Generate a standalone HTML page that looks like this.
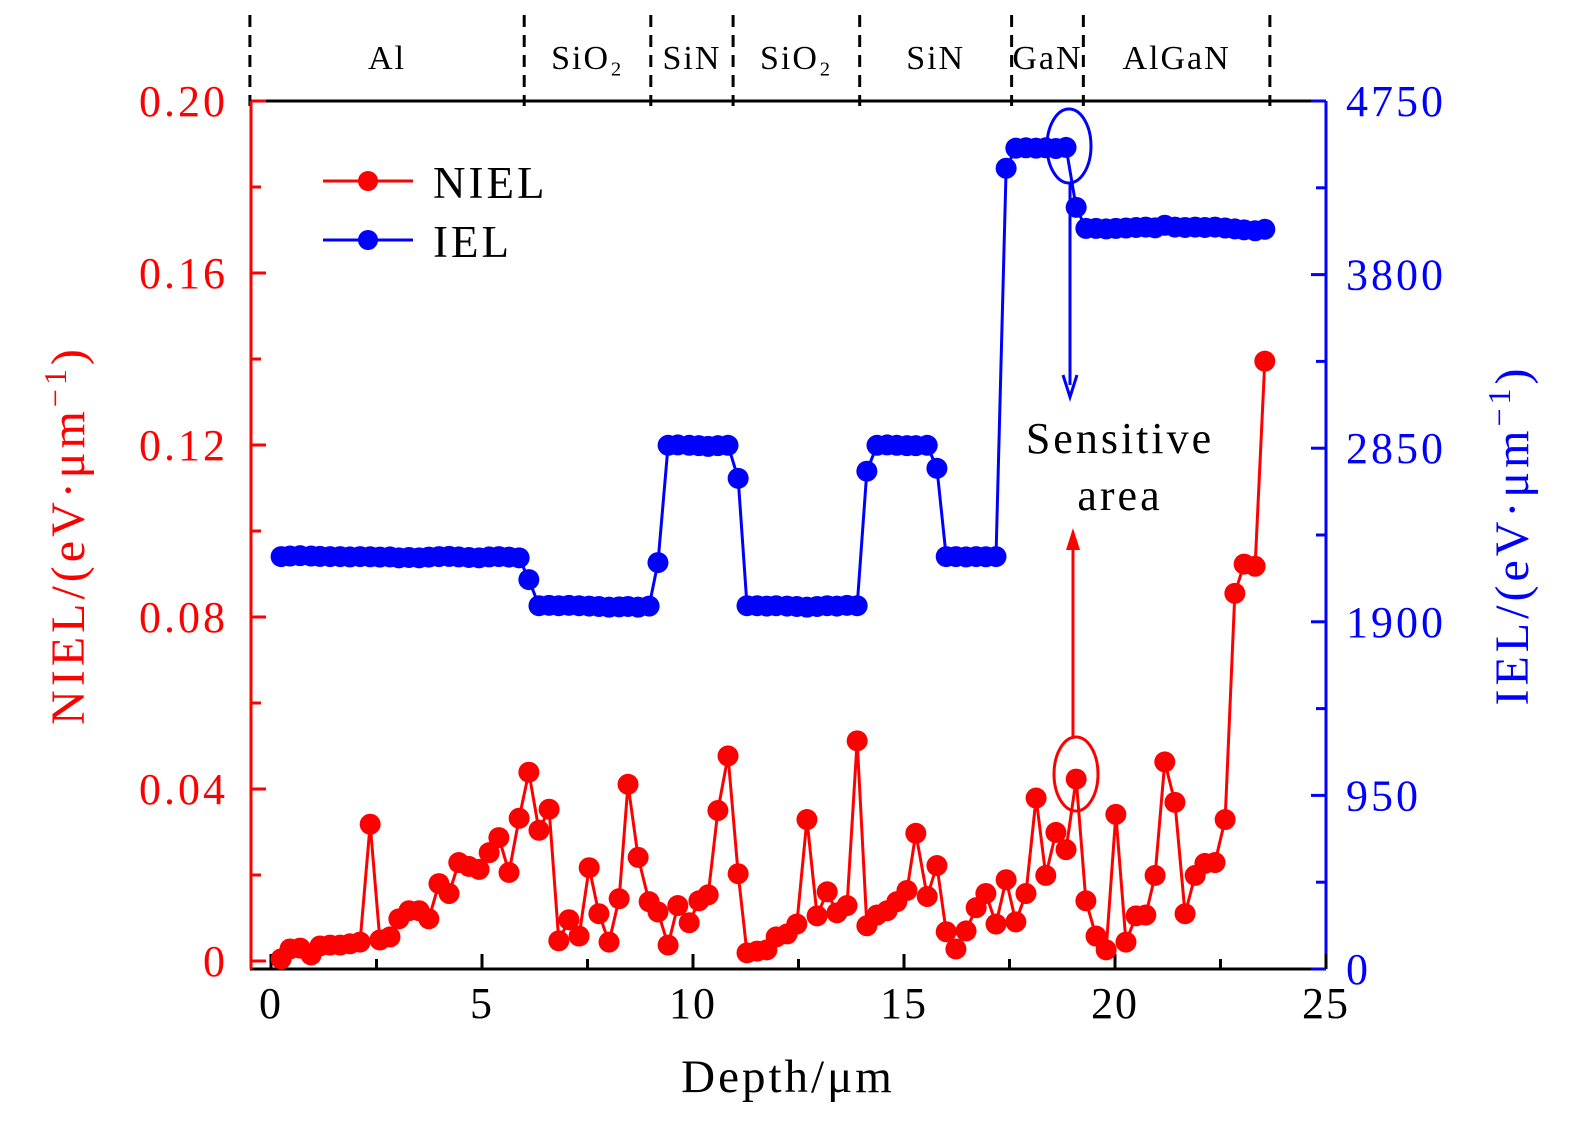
<!DOCTYPE html>
<html><head><meta charset="utf-8"><style>
body{margin:0;background:#fff;}
svg{display:block;font-family:"Liberation Serif",serif;}
</style></head><body>
<svg id="chart" width="1575" height="1122" viewBox="0 0 1575 1122">
<g id="layers"></g>
<g id="axes"></g>
<g id="series"></g>
<g>
  <line x1="323" y1="181" x2="413" y2="181" stroke="#f00" stroke-width="3"/>
  <circle cx="368" cy="181" r="10" fill="#f00"/>
  <text x="433" y="198" font-size="45" letter-spacing="3">NIEL</text>
  <line x1="323" y1="240" x2="413" y2="240" stroke="#00f" stroke-width="3"/>
  <circle cx="368" cy="240" r="10" fill="#00f"/>
  <text x="433" y="257" font-size="45" letter-spacing="3">IEL</text>
</g>
<g>
  <ellipse cx="1069" cy="146" rx="22" ry="37" fill="none" stroke="#00f" stroke-width="3"/>
  <line x1="1070" y1="183" x2="1070" y2="385" stroke="#00f" stroke-width="3"/>
  <path d="M1063,375 L1070,397 L1077,375" fill="none" stroke="#00f" stroke-width="3"/>
  <ellipse cx="1076" cy="774" rx="22" ry="37" fill="none" stroke="#f00" stroke-width="3"/>
  <line x1="1073" y1="737" x2="1073" y2="540" stroke="#f00" stroke-width="3"/>
  <path d="M1066,550 L1073,528 L1080,550 Z" fill="#f00"/>
  <text x="1120" y="453" font-size="44" letter-spacing="3" text-anchor="middle">Sensitive</text>
  <text x="1120" y="510" font-size="44" letter-spacing="3" text-anchor="middle">area</text>
</g>
<text x="788" y="1092" font-size="47" letter-spacing="3" text-anchor="middle">Depth/μm</text>
<text transform="translate(84,535) rotate(-90)" font-size="48" letter-spacing="4" text-anchor="middle" fill="#f00">NIEL/(eV·μm<tspan dy="-18" font-size="32">−1</tspan><tspan dy="18">)</tspan></text>
<text transform="translate(1528,535) rotate(-90)" font-size="48" letter-spacing="4" text-anchor="middle" fill="#00f">IEL/(eV·μm<tspan dy="-18" font-size="32">−1</tspan><tspan dy="18">)</tspan></text>
</svg>
<script>
const depths=[0.24,0.45,0.69,0.95,1.16,1.40,1.64,1.87,2.11,2.35,2.58,2.82,3.03,3.27,3.51,3.74,3.98,4.22,4.45,4.69,4.93,5.17,5.40,5.64,5.88,6.11,6.35,6.59,6.82,7.06,7.30,7.54,7.77,8.01,8.25,8.46,8.70,8.96,9.17,9.41,9.64,9.91,10.14,10.36,10.59,10.83,11.07,11.28,11.52,11.75,11.97,12.23,12.46,12.70,12.94,13.18,13.41,13.65,13.89,14.12,14.36,14.60,14.83,15.07,15.28,15.55,15.78,16.00,16.23,16.47,16.71,16.94,17.18,17.42,17.65,17.89,18.13,18.36,18.60,18.84,19.08,19.31,19.55,19.79,20.02,20.26,20.50,20.73,20.95,21.18,21.42,21.66,21.90,22.13,22.37,22.61,22.84,23.06,23.32,23.55];
const nielValues=[0.0005,0.0028,0.0030,0.0014,0.0035,0.0037,0.0037,0.0040,0.0044,0.0318,0.0049,0.0056,0.0098,0.0117,0.0117,0.0098,0.0180,0.0157,0.0229,0.0220,0.0213,0.0252,0.0287,0.0206,0.0332,0.0439,0.0304,0.0353,0.0047,0.0096,0.0058,0.0217,0.0110,0.0044,0.0145,0.0411,0.0241,0.0138,0.0114,0.0037,0.0129,0.0089,0.0140,0.0154,0.0350,0.0477,0.0203,0.0019,0.0023,0.0026,0.0056,0.0063,0.0086,0.0329,0.0105,0.0161,0.0112,0.0129,0.0512,0.0082,0.0107,0.0117,0.0138,0.0164,0.0297,0.0150,0.0222,0.0068,0.0028,0.0070,0.0124,0.0157,0.0086,0.0189,0.0091,0.0157,0.0379,0.0199,0.0299,0.0259,0.0423,0.0140,0.0058,0.0026,0.0341,0.0044,0.0105,0.0107,0.0199,0.0463,0.0369,0.0110,0.0199,0.0227,0.0229,0.0329,0.0855,0.0923,0.0918,0.1395];
const ielValues=[2257,2260,2262,2260,2258,2257,2257,2255,2257,2256,2254,2255,2250,2252,2250,2254,2257,2258,2255,2252,2250,2255,2257,2254,2250,2131,1988,1990,1988,1990,1988,1986,1984,1980,1982,1984,1980,1986,2224,2866,2868,2866,2864,2860,2864,2866,2685,1988,1988,1986,1988,1986,1984,1980,1984,1988,1986,1990,1988,2724,2866,2868,2866,2864,2864,2866,2740,2257,2257,2255,2257,2256,2257,4382,4492,4494,4492,4494,4490,4496,4168,4053,4053,4050,4053,4055,4058,4060,4056,4070,4060,4058,4060,4058,4060,4055,4050,4045,4040,4048,4053];
const xTicks=[0,5,10,15,20,25];
const nielTicks=[0,0.04,0.08,0.12,0.16,0.20];
const nielTickLabels=["0","0.04","0.08","0.12","0.16","0.20"];
const ielTicks=[0,950,1900,2850,3800,4750];
const layerNames=["Al","SiO₂","SiN","SiO₂","SiN","GaN","AlGaN"];
const layerBounds=[-0.5,6.0,9.0,10.95,13.95,17.55,19.25,23.67];

const NS="http://www.w3.org/2000/svg";
const L=251,R=1326,T=101,B=969;
const X=d=>271+d*(1326-271)/25;
const YN=v=>961-v*(961-101)/0.2;
const YI=v=>969-v*(969-101)/4750;
function mk(tag,attrs,parent,txt){const e=document.createElementNS(NS,tag);for(const k in attrs)e.setAttribute(k,attrs[k]);if(txt!==undefined)e.textContent=txt;parent.appendChild(e);return e;}
const axes=document.getElementById('axes'),ser=document.getElementById('series'),lay=document.getElementById('layers');

mk('line',{x1:L,y1:T,x2:R,y2:T,stroke:'#000','stroke-width':3},axes);
mk('line',{x1:L-1,y1:B,x2:R,y2:B,stroke:'#000','stroke-width':3},axes);
mk('line',{x1:L,y1:T,x2:L,y2:B,stroke:'#f00','stroke-width':3},axes);
mk('line',{x1:R,y1:T,x2:R,y2:B,stroke:'#00f','stroke-width':3},axes);
for(let i=0;i<xTicks.length;i++){const x=X(xTicks[i]);
 mk('line',{x1:x,y1:B,x2:x,y2:B-15,stroke:'#000','stroke-width':3},axes);
 const t=mk('text',{x:x,y:1018,'font-size':44,'letter-spacing':2,'text-anchor':'middle'},axes,String(xTicks[i]));
 
 
 if(i<xTicks.length-1){const xm=X(xTicks[i]+2.5);mk('line',{x1:xm,y1:B,x2:xm,y2:B-10,stroke:'#000','stroke-width':3},axes);}
}
for(let i=0;i<nielTicks.length;i++){const y=YN(nielTicks[i]);
 mk('line',{x1:L,y1:y,x2:L+15,y2:y,stroke:'#f00','stroke-width':3},axes);
 const t=mk('text',{x:228,y:y+15,'font-size':44,'letter-spacing':3,'text-anchor':'end',fill:'#f00'},axes,nielTickLabels[i]);
 
 
 if(i<nielTicks.length-1){const ym=YN(nielTicks[i]+0.02);mk('line',{x1:L,y1:ym,x2:L+10,y2:ym,stroke:'#f00','stroke-width':3},axes);}
}
for(let i=0;i<ielTicks.length;i++){const y=YI(ielTicks[i]);
 mk('line',{x1:R,y1:y,x2:R-15,y2:y,stroke:'#00f','stroke-width':3},axes);
 const t=mk('text',{x:1346,y:y+15,'font-size':44,'letter-spacing':3,fill:'#00f'},axes,String(ielTicks[i]));
 
 
 if(i<ielTicks.length-1){const ym=YI(ielTicks[i]+475);mk('line',{x1:R,y1:ym,x2:R-10,y2:ym,stroke:'#00f','stroke-width':3},axes);}
}
for(let i=0;i<layerBounds.length;i++){const x=X(layerBounds[i]);
 mk('line',{x1:x,y1:15,x2:x,y2:T+5,stroke:'#000','stroke-width':3,'stroke-dasharray':'12,8'},lay);
 if(i<layerNames.length){const t=mk('text',{x:(x+X(layerBounds[i+1]))/2,y:69,'font-size':34,'letter-spacing':2,'text-anchor':'middle'},lay,layerNames[i]);
  
  }
}
function draw(vals,yf,color,name){
 const pts=depths.map((d,i)=>X(d)+','+yf(vals[i])).join(' ');
 const pl=mk('polyline',{points:pts,fill:'none',stroke:color,'stroke-width':3},ser);
 
 
 depths.forEach((d,i)=>{const c=mk('circle',{cx:X(d),cy:yf(vals[i]),r:10.5,fill:color},ser);
  
  });
}
draw(ielValues,YI,'#00f','iel');
draw(nielValues,YN,'#f00','niel');
</script>
</body></html>
